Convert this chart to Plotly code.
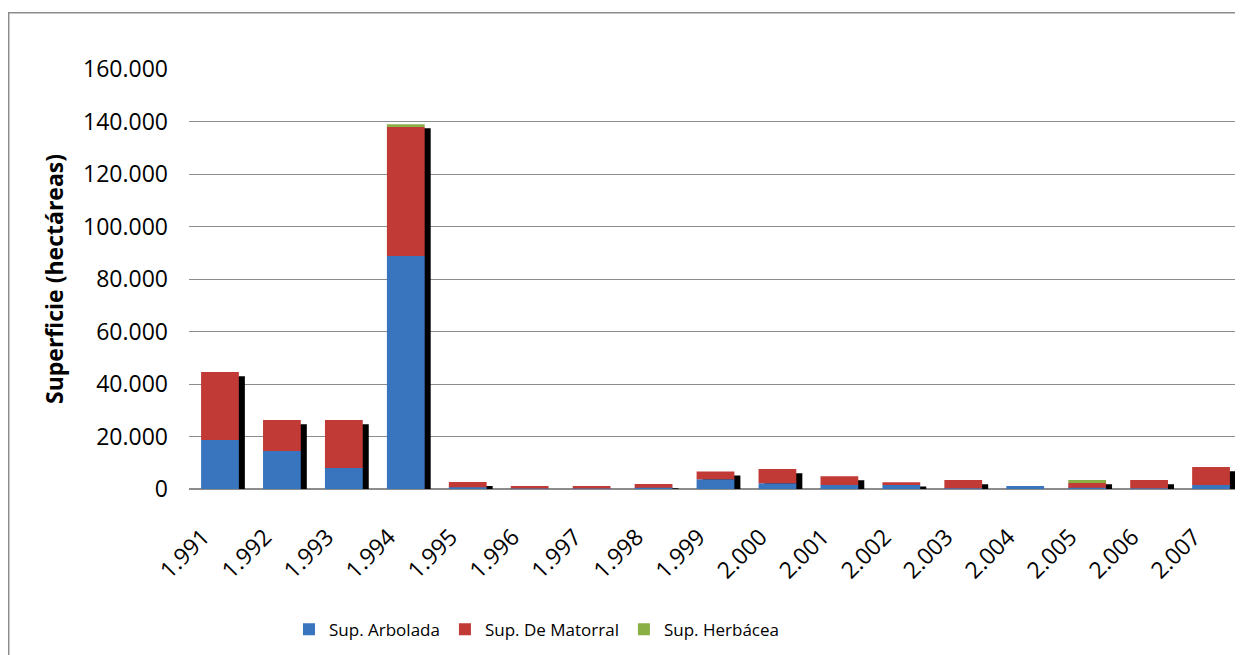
import plotly.graph_objects as go

years = ["1.991", "1.992", "1.993", "1.994", "1.995", "1.996", "1.997", "1.998", "1.999",
         "2.000", "2.001", "2.002", "2.003", "2.004", "2.005", "2.006", "2.007"]
arbolada = [18700, 14500, 8000, 88800, 700, 200, 200, 500, 3700, 2200, 1500, 1500, 300, 1100, 500, 300, 1500]
matorral = [25900, 11800, 18300, 49100, 2000, 900, 900, 1400, 3000, 5400, 3400, 1100, 3100, 0, 1800, 3100, 6900]
herbacea = [0, 0, 0, 1100, 0, 0, 0, 0, 0, 0, 0, 0, 0, 0, 1100, 0, 0]

FONT = "Open Sans"
W = 0.61
SH_X = 0.097     # shadow horizontal shift (category units)
SH_Y = 1600      # shadow vertical drop (data units)

totals = [a + m + h for a, m, h in zip(arbolada, matorral, herbacea)]
base_m = arbolada
base_h = [a + m for a, m in zip(arbolada, matorral)]

fig = go.Figure()
# shadow
fig.add_trace(go.Bar(x=years, y=totals, base=[-SH_Y] * len(years), width=W, offset=-W / 2 + SH_X,
                     marker=dict(color="black", line=dict(width=0)), showlegend=False, hoverinfo="skip"))
fig.add_trace(go.Bar(x=years, y=arbolada, base=[0] * len(years), width=W, offset=-W / 2,
                     name="Sup. Arbolada", marker=dict(color="#3974BE", line=dict(width=0))))
fig.add_trace(go.Bar(x=years, y=matorral, base=base_m, width=W, offset=-W / 2,
                     name="Sup. De Matorral", marker=dict(color="#C23A36", line=dict(width=0))))
fig.add_trace(go.Bar(x=years, y=herbacea, base=base_h, width=W, offset=-W / 2,
                     name="Sup. Herbácea", marker=dict(color="#8AAF45", line=dict(width=0))))

fig.update_layout(
    width=1235, height=647,
    barmode="overlay",
    plot_bgcolor="white", paper_bgcolor="white",
    margin=dict(l=181, r=1, t=60.5, b=165.5, autoexpand=False),
    font=dict(family=FONT, color="black"),
    legend=dict(orientation="h", x=0.330, xanchor="center", y=-0.335, yanchor="middle",
                font=dict(size=17, family=FONT), traceorder="normal", itemwidth=30),
    shapes=[dict(type="rect", xref="paper", yref="paper", x0=-0.1712, x1=1.05, y0=-0.6, y1=1.1342,
                 line=dict(color="#8C8C8C", width=1.5), layer="below")],
)
fig.update_xaxes(type="category", tickangle=-45, tickfont=dict(size=23, family=FONT),
                 showgrid=False, showline=False, ticks="", ticklabelstandoff=29, ticklabelshift=-17,
                 range=[-0.5, len(years) - 0.5], automargin=False)
fig.update_yaxes(range=[0, 160000], tickvals=[0, 20000, 40000, 60000, 80000, 100000, 120000, 140000, 160000],
                 ticktext=["0", "20.000", "40.000", "60.000", "80.000", "100.000", "120.000", "140.000", "160.000"],
                 tickfont=dict(size=23, family=FONT), showgrid=True, gridcolor="#8C8C8C", gridwidth=1,
                 zeroline=True, zerolinecolor="#8C8C8C", zerolinewidth=1.5, showline=False,
                 ticklabelstandoff=20, automargin=False,
                 title=dict(text="<b>Superficie (hectáreas)</b>", font=dict(size=23, family=FONT), standoff=12))

fig.write_html("out.html")
